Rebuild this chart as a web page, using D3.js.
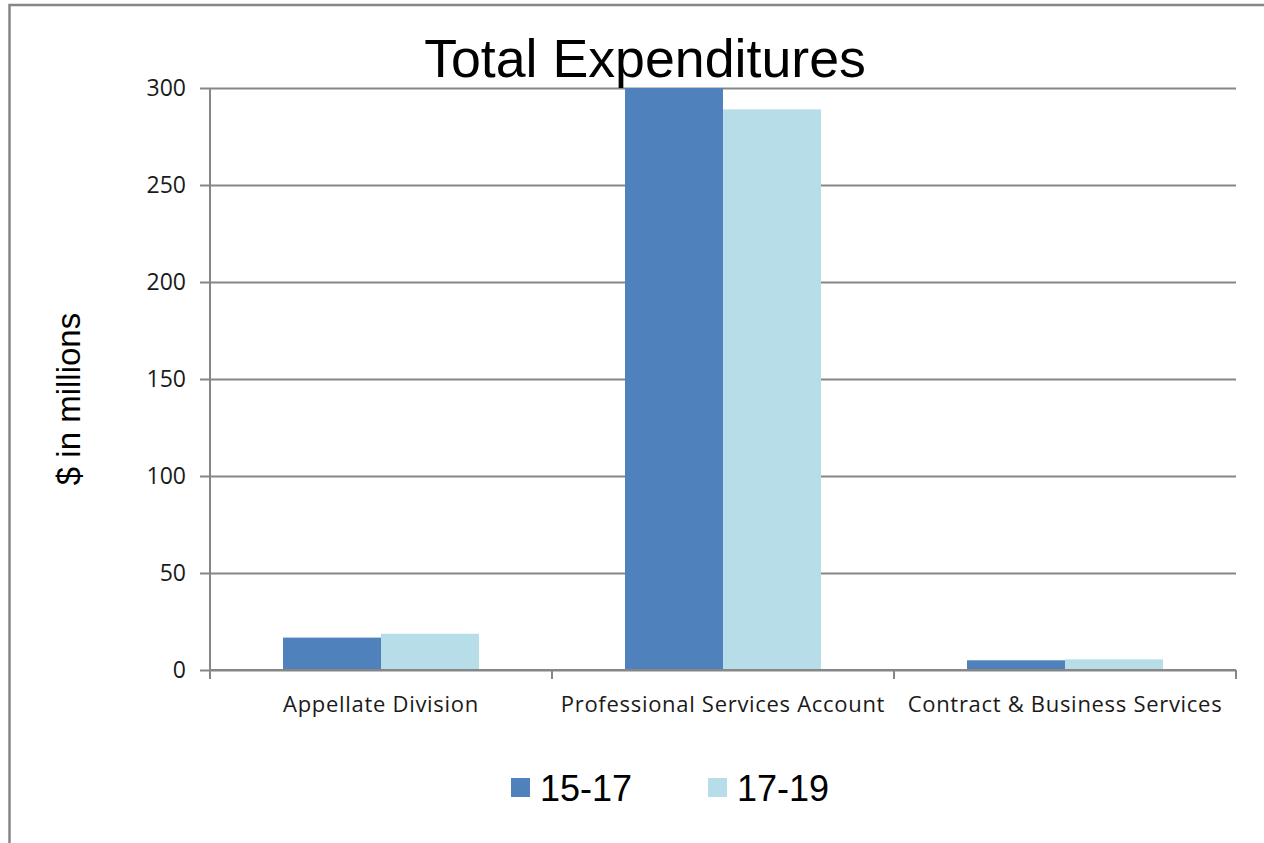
<!DOCTYPE html>
<html>
<head>
<meta charset="utf-8">
<script src="https://cdn.jsdelivr.net/npm/d3@7"></script>
<style>
  html, body { margin: 0; padding: 0; background: #fff; }
  svg { display: block; }
</style>
</head>
<body>
<svg id="chart" width="1264" height="843"></svg>
<script>
// Expenditure data, $ in millions
const categories = ["Appellate Division", "Professional Services Account", "Contract & Business Services"];
const seriesNames = ["15-17", "17-19"];
const values1517 = [16.7, 300, 5.0];
const values1719 = [18.7, 289, 5.5];
const yTicks = [0, 50, 100, 150, 200, 250, 300];
const seriesColors = ["#4F81BD", "#B7DEE8"];

const svg = d3.select("#chart");
const W = 1264, H = 843;
const plot = { left: 210, right: 1236, top: 88, bottom: 670 };
const gridColor = "#868686";

// Outer frame (extends past the right and bottom edges of the page)
svg.append("rect")
  .attr("x", 9.5).attr("y", 5)
  .attr("width", W + 40).attr("height", H + 40)
  .attr("fill", "#fff")
  .attr("stroke", gridColor)
  .attr("stroke-width", 2.5);

const x0 = d3.scaleBand()
  .domain(categories)
  .range([plot.left, plot.right])
  .paddingInner(0.427)
  .paddingOuter(0.2135);

const x1 = d3.scaleBand()
  .domain(seriesNames)
  .range([0, x0.bandwidth()]);

const y = d3.scaleLinear()
  .domain([0, 300])
  .range([plot.bottom, plot.top]);

// Horizontal gridlines + y axis ticks
const yAxis = d3.axisLeft(y)
  .tickValues(yTicks)
  .tickSize(-(plot.right - plot.left))
  .tickPadding(24)
  .tickFormat(d3.format("d"));

const gy = svg.append("g")
  .attr("transform", `translate(${plot.left},0)`)
  .call(yAxis);
gy.select(".domain").remove();
gy.selectAll(".tick line")
  .attr("stroke", gridColor)
  .attr("stroke-width", 2)
  .attr("x1", -10);
gy.selectAll(".tick text")
  .attr("fill", "#1a1a1a")
  .style("font-family", "'Open Sans', sans-serif")
  .style("font-size", "23px");

// Bars
const rows = categories.map((c, i) => ({
  category: c,
  items: [
    { series: seriesNames[0], value: values1517[i], color: seriesColors[0] },
    { series: seriesNames[1], value: values1719[i], color: seriesColors[1] }
  ]
}));

const groups = svg.append("g").selectAll("g")
  .data(rows)
  .join("g")
  .attr("transform", d => `translate(${x0(d.category)},0)`);

groups.selectAll("rect")
  .data(d => d.items)
  .join("rect")
  .attr("x", d => x1(d.series))
  .attr("width", x1.bandwidth())
  .attr("y", d => y(d.value))
  .attr("height", d => y(0) - y(d.value))
  .attr("fill", d => d.color);

// Vertical axis line
svg.append("line")
  .attr("x1", plot.left).attr("x2", plot.left)
  .attr("y1", y(300)).attr("y2", plot.bottom + 9)
  .attr("stroke", gridColor).attr("stroke-width", 2);

// Category axis with tick marks between categories
const boundaries = categories.map(c => x0(c) - x0.step() * x0.paddingOuter());
boundaries.push(plot.right);
const gx = svg.append("g");
gx.append("line")
  .attr("x1", plot.left).attr("x2", plot.right)
  .attr("y1", plot.bottom).attr("y2", plot.bottom)
  .attr("stroke", gridColor).attr("stroke-width", 2);
gx.selectAll("line.tick")
  .data(boundaries)
  .join("line")
  .attr("class", "tick")
  .attr("x1", d => d).attr("x2", d => d)
  .attr("y1", plot.bottom).attr("y2", plot.bottom + 9)
  .attr("stroke", gridColor).attr("stroke-width", 2);
gx.selectAll("text")
  .data(categories)
  .join("text")
  .attr("x", d => x0(d) + x0.bandwidth() / 2)
  .attr("y", 712)
  .attr("text-anchor", "middle")
  .attr("fill", "#1a1a1a")
  .style("font-family", "'Open Sans', sans-serif")
  .style("font-size", "22px")
  .style("letter-spacing", "0.7px")
  .text(d => d);

// Title
svg.append("text")
  .attr("x", 645).attr("y", 77)
  .attr("text-anchor", "middle")
  .style("font-family", "'Liberation Sans', Arial, sans-serif")
  .style("font-size", "53.7px")
  .attr("fill", "#000")
  .text("Total Expenditures");

// Y axis title
svg.append("text")
  .attr("transform", "translate(80,399) rotate(-90)")
  .attr("text-anchor", "middle")
  .style("font-family", "'Liberation Sans', Arial, sans-serif")
  .style("font-size", "33px")
  .attr("fill", "#000")
  .text("$ in millions");

// Legend
const legendX = [511, 708];
const legend = svg.append("g").selectAll("g")
  .data(seriesNames)
  .join("g")
  .attr("transform", (d, i) => `translate(${legendX[i]},778)`);
legend.append("rect")
  .attr("width", 19).attr("height", 19)
  .attr("fill", (d, i) => seriesColors[i]);
legend.append("text")
  .attr("x", 29).attr("y", 22.5)
  .style("font-family", "'Liberation Sans', Arial, sans-serif")
  .style("font-size", "36px")
  .attr("fill", "#000")
  .text(d => d);
</script>
</body>
</html>
